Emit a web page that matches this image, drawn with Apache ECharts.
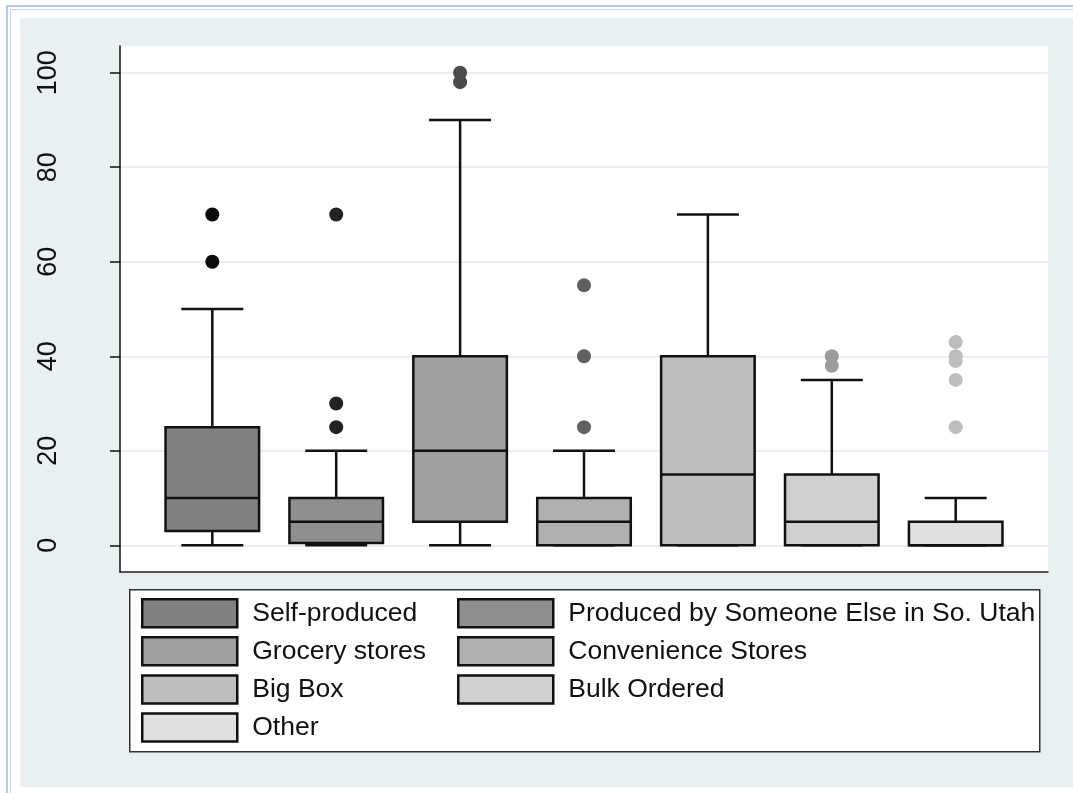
<!DOCTYPE html>
<html>
<head>
<meta charset="utf-8">
<script src="https://cdn.jsdelivr.net/npm/echarts@6/dist/echarts.min.js"></script>
<style>
  html, body { margin: 0; padding: 0; background: #ffffff; }
  #wrap { position: relative; width: 1073px; height: 793px; overflow: hidden; }
  .fr { position: absolute; }
  #c { position: absolute; left: 0; top: 0; width: 1073px; height: 793px; }
</style>
</head>
<body>
<div id="wrap">
  <div class="fr" style="left:6px;top:5px;width:1067px;height:2px;background:#b3cbec;"></div>
  <div class="fr" style="left:10px;top:9px;width:1063px;height:1px;background:#c9dbf2;"></div>
  <div class="fr" style="left:6px;top:5px;width:2px;height:788px;background:#b3cbec;"></div>
  <div class="fr" style="left:10px;top:9px;width:1px;height:784px;background:#c9dbf2;"></div>
  <div class="fr" style="left:20px;top:18px;width:1053px;height:769px;background:#e8f0f2;"></div>
  <div id="c"></div>
</div>
<script>
// ---- data ----
const categories = ['Self-produced', 'Produced by Someone Else in So. Utah', 'Grocery stores',
  'Convenience Stores', 'Big Box', 'Bulk Ordered', 'Other'];
const positions = [1, 2, 3, 4, 5, 6, 7];
const lowerWhisker = [0, 0, 0, 0, 0, 0, 0];
const q1 = [3, 0.5, 5, 0, 0, 0, 0];
const median = [10, 5, 20, 5, 15, 5, 0];
const q3 = [25, 10, 40, 10, 40, 15, 5];
const upperWhisker = [50, 20, 90, 20, 70, 35, 10];
const outliers = [[60, 70], [25, 30, 70], [98, 100], [25, 40, 55], [], [38, 40], [25, 35, 39, 40, 43]];
const yTicks = [0, 20, 40, 60, 80, 100];

// ---- style ----
const boxColors = ['#808080', '#8f8f8f', '#a0a0a0', '#b0b0b0', '#bebebe', '#d0d0d0', '#e0e0e0'];
const outlierColors = ['#0a0a0a', '#222222', '#4b4b4b', '#606060', '#7a7a7a', '#9c9c9c', '#bdbdbd'];
const FONT = '"Liberation Sans", Arial, Helvetica, sans-serif';
const BOX_W = 0.755;
const CAP_W = 0.5;

function renderBox(params, api) {
  const x = api.value(0);
  const lo = api.coord([x, api.value(1)]);
  const b1 = api.coord([x, api.value(2)]);
  const md = api.coord([x, api.value(3)]);
  const b3 = api.coord([x, api.value(4)]);
  const hi = api.coord([x, api.value(5)]);
  const bw = api.size([BOX_W, 0])[0];
  const cw = api.size([CAP_W, 0])[0];
  const cx = lo[0];
  const ls = { stroke: '#111', lineWidth: 2.5, fill: null };
  return {
    type: 'group',
    children: [
      { type: 'line', shape: { x1: cx, y1: lo[1], x2: cx, y2: b1[1] }, style: ls },
      { type: 'line', shape: { x1: cx, y1: b3[1], x2: cx, y2: hi[1] }, style: ls },
      { type: 'line', shape: { x1: cx - cw / 2, y1: lo[1], x2: cx + cw / 2, y2: lo[1] }, style: ls },
      { type: 'line', shape: { x1: cx - cw / 2, y1: hi[1], x2: cx + cw / 2, y2: hi[1] }, style: ls },
      { type: 'rect', shape: { x: cx - bw / 2, y: b3[1], width: bw, height: b1[1] - b3[1] },
        style: { fill: api.visual('color'), stroke: '#111', lineWidth: 2.5 } },
      { type: 'line', shape: { x1: cx - bw / 2, y1: md[1], x2: cx + bw / 2, y2: md[1] }, style: ls }
    ]
  };
}

const series = [];
categories.forEach((cat, i) => {
  series.push({
    type: 'custom',
    name: cat,
    itemStyle: { color: boxColors[i] },
    data: [[positions[i], lowerWhisker[i], q1[i], median[i], q3[i], upperWhisker[i]]],
    encode: { x: 0, y: [1, 2, 3, 4, 5] },
    renderItem: renderBox,
    silent: true,
    z: 3
  });
});
categories.forEach((cat, i) => {
  series.push({
    type: 'scatter',
    name: cat,
    symbol: 'circle',
    symbolSize: 14,
    itemStyle: { color: outlierColors[i], opacity: 1 },
    data: outliers[i].map(v => [positions[i], v]),
    silent: true,
    z: 4
  });
});

const legendCommon = {
  orient: 'vertical',
  padding: 0,
  itemWidth: 95,
  itemHeight: 28,
  itemGap: 7.6,
  icon: 'rect',
  selectedMode: false,
  itemStyle: { borderColor: '#111', borderWidth: 2.5 },
  textStyle: { fontFamily: FONT, fontSize: 26.5, color: '#111', lineHeight: 28, padding: [0, 0, 0, 10] },
  z: 5
};

const chart = echarts.init(document.getElementById('c'), null, { renderer: 'canvas' });
chart.setOption({
  backgroundColor: 'transparent',
  animation: false,
  grid: {
    left: 120, right: 25, top: 46, bottom: 221,
    show: true, backgroundColor: '#ffffff', borderWidth: 0
  },
  xAxis: {
    type: 'value',
    min: 0.255, max: 7.745,
    axisLine: { show: true, onZero: false, lineStyle: { color: '#222', width: 1.5 } },
    axisTick: { show: false },
    axisLabel: { show: false },
    splitLine: { show: false }
  },
  yAxis: {
    type: 'value',
    min: -5.65, max: 105.65,
    axisLine: { show: true, lineStyle: { color: '#111', width: 1.5 } },
    axisTick: { show: true, length: 10, customValues: yTicks, lineStyle: { color: '#111', width: 1.5 } },
    axisLabel: { show: true, customValues: yTicks, rotate: 90, margin: 58,
      fontFamily: FONT, fontSize: 27, color: '#111' },
    splitLine: { show: true, lineStyle: { color: '#e9f0f2', width: 2 } }
  },
  legend: [
    Object.assign({}, legendCommon, { left: 141, top: 598, data: [categories[0], categories[2], categories[4], categories[6]] }),
    Object.assign({}, legendCommon, { left: 457, top: 598, data: [categories[1], categories[3], categories[5]] })
  ],
  graphic: [
    { type: 'rect', left: 129, top: 589, z: 1,
      shape: { width: 910, height: 162 },
      style: { fill: '#ffffff', stroke: '#333', lineWidth: 1.5 } }
  ],
  series: series
});
</script>
</body>
</html>
